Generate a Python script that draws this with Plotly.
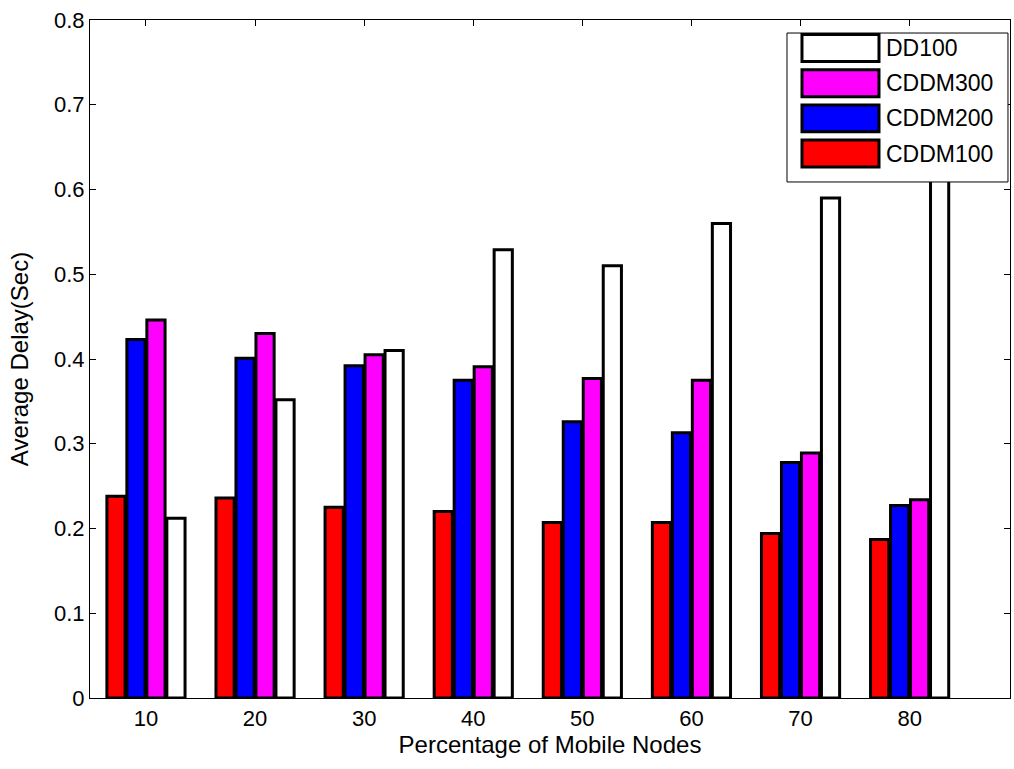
import plotly.graph_objects as go

# Percentage of mobile nodes (x categories)
mobile_pct = [10, 20, 30, 40, 50, 60, 70, 80]

# Average delay in seconds for each scheme
cddm100 = [0.238, 0.236, 0.225, 0.220, 0.207, 0.207, 0.194, 0.187]
cddm200 = [0.423, 0.401, 0.392, 0.375, 0.326, 0.313, 0.278, 0.227]
cddm300 = [0.446, 0.430, 0.405, 0.391, 0.377, 0.375, 0.289, 0.234]
dd100 = [0.212, 0.352, 0.410, 0.529, 0.510, 0.560, 0.590, 0.660]

series_names = ["CDDM100", "CDDM200", "CDDM300", "DD100"]
series_values = [cddm100, cddm200, cddm300, dd100]
series_colors = ["#ff0000", "#0000ff", "#ff00ff", "#ffffff"]

y_ticks = [0, 0.1, 0.2, 0.3, 0.4, 0.5, 0.6, 0.7, 0.8]
y_tick_text = ["0", "0.1", "0.2", "0.3", "0.4", "0.5", "0.6", "0.7", "0.8"]

FONT = "Liberation Sans, Arial, sans-serif"

fig = go.Figure()
for name, vals, col in zip(series_names, series_values, series_colors):
    fig.add_trace(go.Bar(
        x=mobile_pct, y=vals, name=name,
        marker=dict(color=col, line=dict(color="black", width=3)),
        showlegend=False,
    ))

# Legend drawn as a framed box with large swatches (top to bottom: reverse order)
L_X0, L_X1 = 0.7576, 0.9978
L_Y0, L_Y1 = 0.7611, 0.9808
SW_X0, SW_X1 = 0.7739, 0.8576
TXT_X = 0.8630
ROW_TOP = 0.9587
ROW_STEP = 0.0519
SW_H = 0.0398

shapes = [dict(type="rect", xref="paper", yref="paper",
               x0=L_X0, x1=L_X1, y0=L_Y0, y1=L_Y1,
               fillcolor="white", line=dict(color="black", width=1), layer="above")]
annotations = []
for i, (name, col) in enumerate(zip(series_names[::-1], series_colors[::-1])):
    yc = ROW_TOP - i * ROW_STEP
    shapes.append(dict(type="rect", xref="paper", yref="paper",
                       x0=SW_X0, x1=SW_X1, y0=yc - SW_H / 2, y1=yc + SW_H / 2,
                       fillcolor=col, line=dict(color="black", width=3), layer="above"))
    annotations.append(dict(xref="paper", yref="paper", x=TXT_X, y=yc,
                            text=name, showarrow=False, xanchor="left", yanchor="middle",
                            font=dict(family=FONT, size=23, color="black")))

axis_common = dict(
    showline=True, linecolor="black", linewidth=1.2, mirror="ticks",
    ticks="inside", ticklen=6, tickcolor="black", tickwidth=1,
    showgrid=False, zeroline=False,
    tickfont=dict(family=FONT, size=22, color="black"),
)

fig.update_layout(
    width=1014, height=769,
    margin=dict(l=90, r=4, t=20, b=71),
    paper_bgcolor="white", plot_bgcolor="white",
    barmode="group", bargap=0.267, bargroupgap=0.09,
    shapes=shapes, annotations=annotations,
    xaxis=dict(**axis_common, range=[4.87, 89.2],
               tickvals=mobile_pct, ticktext=[str(v) for v in mobile_pct],
               title=dict(text="Percentage of Mobile Nodes", standoff=6,
                          font=dict(family=FONT, size=24, color="black"))),
    yaxis=dict(**axis_common, range=[0, 0.8],
               tickvals=y_ticks, ticktext=y_tick_text,
               title=dict(text="Average Delay(Sec)", standoff=18,
                          font=dict(family=FONT, size=24, color="black"))),
)

fig.write_html("out.html")
